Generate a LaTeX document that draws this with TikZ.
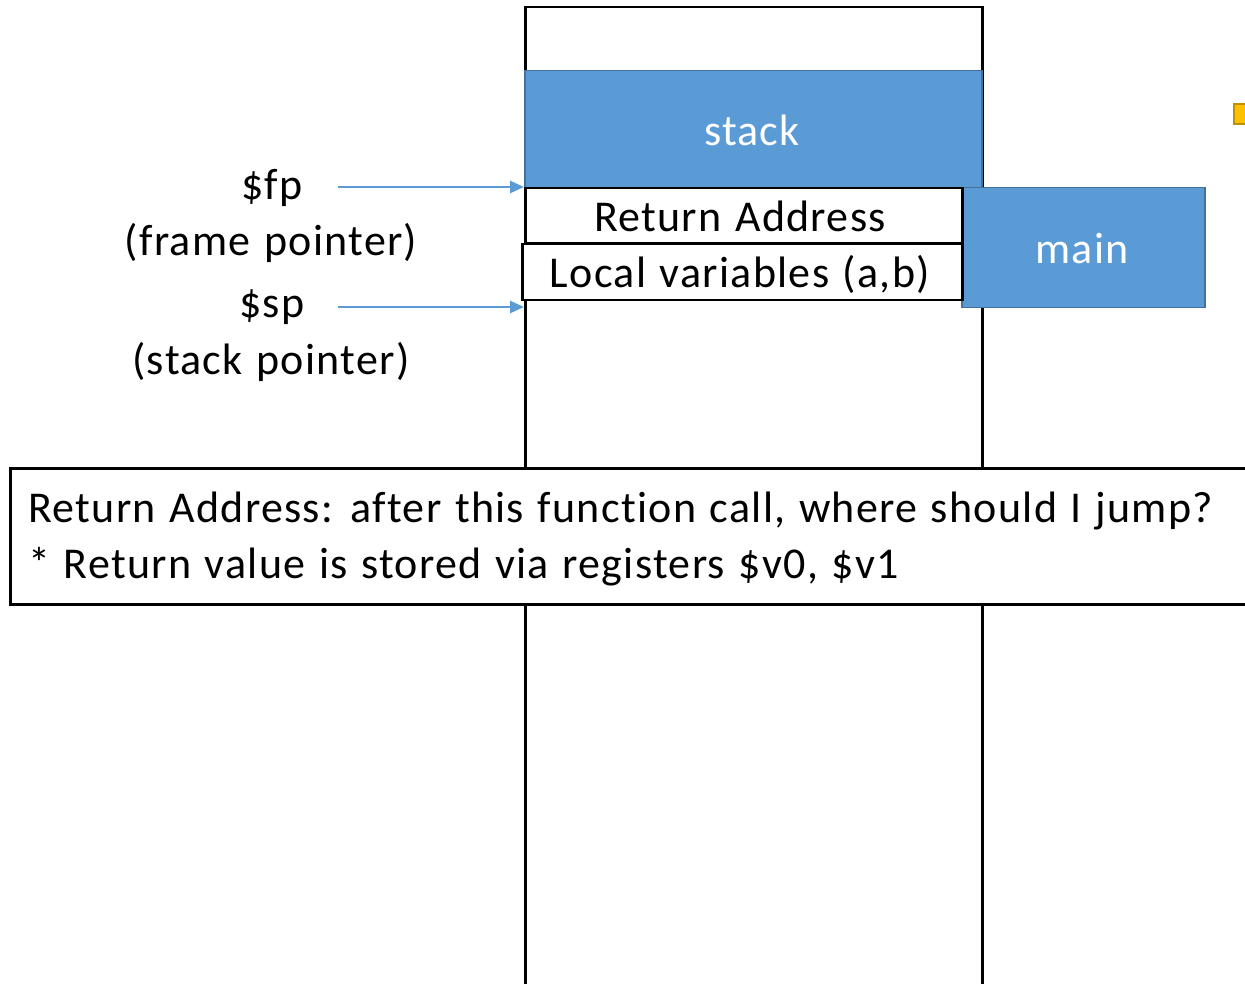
\documentclass[tikz,border=0pt]{standalone}
\usepackage{fontspec}
\setmainfont{Carlito}[LetterSpace=3, WordSpace=1.2, Ligatures=CommonOff]
\usetikzlibrary{arrows.meta}
\definecolor{blu}{HTML}{5B9BD5}
\definecolor{bluedge}{HTML}{41719C}
\definecolor{orng}{HTML}{FFC000}
\definecolor{orngedge}{HTML}{BF9000}
\begin{document}
\begin{tikzpicture}[x=1pt,y=-1pt,
  big/.style={font=\fontsize{44}{56}\selectfont},
  bluebox/.style={draw=bluedge, fill=blu, line width=1.5pt, text=white, inner sep=0pt, anchor=north west, big},
  cellbox/.style={draw=black, fill=white, line width=2.5pt, inner sep=0pt, anchor=north west, big},
  lbl/.style={inner sep=0pt, anchor=base, big},
  ptr/.style={-{Triangle[length=14pt,width=12pt]}, draw=blu, line width=2.5pt}]
\useasboundingbox (0,0) rectangle (1245,984);
\clip (0,0) rectangle (1245,984);
\fill[white] (0,0) rectangle (1245,984);
% memory column
\node[draw=black, line width=2.5pt, inner sep=0pt, anchor=north west, minimum width=457pt, minimum height=1020pt] (col) at (524,6) {};
% stack region
\node[bluebox, minimum width=457pt, minimum height=117pt] (stack) at (524,70) {};
\node[lbl, text=white] (stacklbl) at (752,146) {stack};
% main frame
\node[bluebox, minimum width=243pt, minimum height=120pt] (main) at (961,187) {};
\node[lbl, text=white] (mainlbl) at (1082,264) {main};
% frame cells
\node[cellbox, minimum width=437pt, minimum height=55pt] (ra) at (524,187) {};
\node[lbl] (ralbl) at (740,232) {Return Address};
\node[cellbox, minimum width=440pt, minimum height=56pt] (lv) at (521,243) {};
\node[lbl] (lvlbl) at (740,288) {Local variables (a,b)};
% small orange marker
\node[draw=orngedge, fill=orng, line width=2pt, inner sep=0pt, anchor=north west, minimum width=20pt, minimum height=20pt] (mark) at (1233,103) {};
% pointer labels
\node[lbl] (fp) at (272,200) {\$fp};
\node[lbl] (fpd) at (271,256) {(frame pointer)};
\node[lbl] (sp) at (272,318) {\$sp};
\node[lbl] (spd) at (271,374) {(stack pointer)};
\coordinate (fpstart) at (338,187);
\coordinate (spstart) at (338,307);
\draw[ptr] (fpstart) -- (col.west |- fpstart);
\draw[ptr] (spstart) -- (col.west |- spstart);
% note box
\node[draw=black, fill=white, line width=2.5pt, inner sep=0pt, anchor=north west, minimum width=1260pt, minimum height=136pt] (note) at (9,467) {};
\node[inner sep=0pt, anchor=base west, big] (note1) at (28,522) {Return Address: after this function call, where should I jump?};
\node[inner sep=0pt, anchor=base west, big] (note2) at (28,578) {* Return value is stored via registers \$v0, \$v1};
\end{tikzpicture}
\end{document}
